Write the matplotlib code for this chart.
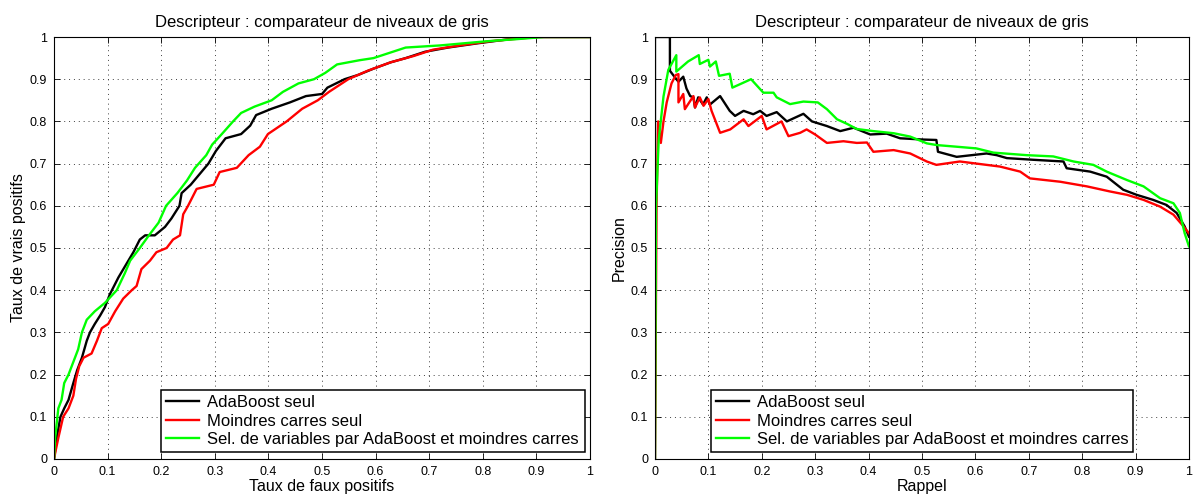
import matplotlib
matplotlib.use("Agg")
import matplotlib.pyplot as plt

plt.rcParams['font.family'] = ['Liberation Sans', 'DejaVu Sans']

# ---- ROC (left) ----
roc_ada_x = [0, 0.005, 0.012, 0.019, 0.027, 0.036, 0.043, 0.052, 0.061, 0.067, 0.076, 0.086, 0.095, 0.104,
             0.12, 0.134, 0.148, 0.16, 0.17, 0.188, 0.207, 0.219, 0.234, 0.238, 0.255, 0.288, 0.302, 0.32,
             0.349, 0.366, 0.377, 0.406, 0.44, 0.47, 0.5, 0.51, 0.542, 0.567, 0.596, 0.628, 0.656, 0.692,
             0.735, 0.79, 0.85, 0.885, 1]
roc_ada_y = [0, 0.05, 0.1, 0.12, 0.14, 0.18, 0.21, 0.24, 0.28, 0.3, 0.32, 0.34, 0.36, 0.39,
             0.43, 0.46, 0.49, 0.52, 0.53, 0.53, 0.55, 0.57, 0.6, 0.63, 0.65, 0.7, 0.73, 0.76,
             0.77, 0.79, 0.815, 0.83, 0.845, 0.86, 0.865, 0.88, 0.9, 0.91, 0.925, 0.94, 0.95, 0.965,
             0.975, 0.985, 0.995, 1.0, 1]

roc_mc_x = [0, 0.003, 0.008, 0.017, 0.027, 0.036, 0.041, 0.047, 0.055, 0.07, 0.08, 0.089, 0.101, 0.114,
            0.129, 0.145, 0.154, 0.163, 0.179, 0.191, 0.21, 0.222, 0.235, 0.241, 0.25, 0.266, 0.298, 0.309,
            0.341, 0.363, 0.384, 0.399, 0.434, 0.463, 0.492, 0.513, 0.549, 0.585, 0.628, 0.671, 0.707,
            0.757, 0.814, 0.9, 1]
roc_mc_y = [0, 0.02, 0.05, 0.1, 0.12, 0.15, 0.19, 0.22, 0.24, 0.25, 0.28, 0.31, 0.32, 0.35,
            0.38, 0.4, 0.41, 0.45, 0.47, 0.49, 0.5, 0.52, 0.53, 0.58, 0.6, 0.64, 0.65, 0.68,
            0.69, 0.72, 0.74, 0.77, 0.8, 0.83, 0.85, 0.87, 0.9, 0.92, 0.94, 0.955, 0.97,
            0.98, 0.99, 1.0, 1]

roc_sel_x = [0, 0.002, 0.008, 0.014, 0.019, 0.027, 0.036, 0.045, 0.052, 0.061, 0.076, 0.095, 0.117, 0.132,
             0.142, 0.16, 0.177, 0.195, 0.209, 0.23, 0.248, 0.263, 0.284, 0.295, 0.313, 0.334, 0.349, 0.374,
             0.406, 0.427, 0.456, 0.485, 0.506, 0.528, 0.57, 0.596, 0.62, 0.656, 0.72, 0.808, 0.864, 0.914, 1]
roc_sel_y = [0, 0.05, 0.12, 0.14, 0.18, 0.2, 0.23, 0.26, 0.3, 0.33, 0.35, 0.37, 0.4, 0.44,
             0.47, 0.5, 0.53, 0.56, 0.6, 0.63, 0.66, 0.69, 0.72, 0.745, 0.77, 0.8, 0.82, 0.835,
             0.85, 0.87, 0.89, 0.9, 0.915, 0.935, 0.945, 0.95, 0.96, 0.975, 0.98, 0.99, 0.995, 1.0, 1]

# ---- Precision / recall (right) ----
pr_ada_x = [0, 0, 0.028, 0.028, 0.037, 0.044, 0.053, 0.059, 0.066, 0.072, 0.075, 0.081, 0.09, 0.097, 0.103,
            0.122, 0.14, 0.15, 0.166, 0.184, 0.197, 0.209, 0.228, 0.247, 0.278, 0.294, 0.322, 0.347, 0.372,
            0.403, 0.434, 0.459, 0.502, 0.527, 0.53, 0.565, 0.621, 0.64, 0.659, 0.709, 0.765, 0.771, 0.815,
            0.846, 0.865, 0.877, 0.902, 0.933, 0.958, 0.977, 0.992, 1.0]
pr_ada_y = [0, 1, 1, 0.92, 0.905, 0.894, 0.906, 0.878, 0.86, 0.857, 0.833, 0.857, 0.84, 0.857, 0.84,
            0.86, 0.825, 0.813, 0.825, 0.817, 0.825, 0.813, 0.822, 0.8, 0.818, 0.8, 0.789, 0.777, 0.785,
            0.769, 0.771, 0.76, 0.757, 0.756, 0.728, 0.716, 0.724, 0.72, 0.713, 0.709, 0.705, 0.689, 0.681,
            0.669, 0.65, 0.638, 0.626, 0.614, 0.602, 0.583, 0.551, 0.527]

pr_mc_x = [0, 0.003, 0.006, 0.011, 0.016, 0.022, 0.031, 0.039, 0.044, 0.044, 0.053, 0.056, 0.072, 0.075, 0.084,
           0.091, 0.1, 0.106, 0.122, 0.141, 0.166, 0.175, 0.2, 0.209, 0.237, 0.25, 0.272, 0.284, 0.3, 0.322,
           0.353, 0.378, 0.397, 0.409, 0.447, 0.478, 0.509, 0.527, 0.571, 0.596, 0.646, 0.684, 0.702, 0.759,
           0.809, 0.852, 0.884, 0.915, 0.946, 0.971, 0.99, 1.0]
pr_mc_y = [0, 0.6, 0.8, 0.749, 0.8, 0.845, 0.89, 0.91, 0.912, 0.845, 0.865, 0.829, 0.86, 0.833, 0.857,
           0.837, 0.853, 0.825, 0.773, 0.781, 0.805, 0.789, 0.813, 0.781, 0.8, 0.765, 0.773, 0.781, 0.769, 0.749,
           0.753, 0.749, 0.75, 0.728, 0.732, 0.724, 0.705, 0.697, 0.705, 0.701, 0.693, 0.681, 0.665, 0.657,
           0.646, 0.634, 0.626, 0.614, 0.598, 0.579, 0.551, 0.535]

pr_sel_x = [0, 0.002, 0.007, 0.016, 0.025, 0.04, 0.04, 0.062, 0.082, 0.084, 0.1, 0.103, 0.114, 0.12, 0.14,
            0.145, 0.18, 0.203, 0.222, 0.228, 0.253, 0.278, 0.305, 0.322, 0.341, 0.36, 0.378, 0.409, 0.447,
            0.478, 0.509, 0.527, 0.565, 0.602, 0.634, 0.696, 0.746, 0.784, 0.821, 0.846, 0.884, 0.915, 0.946,
            0.971, 0.983, 0.992, 1.0]
pr_sel_y = [0, 0.6, 0.756, 0.859, 0.922, 0.957, 0.918, 0.942, 0.957, 0.936, 0.946, 0.93, 0.942, 0.908, 0.913,
            0.88, 0.9, 0.868, 0.868, 0.857, 0.841, 0.847, 0.845, 0.829, 0.805, 0.794, 0.782, 0.777, 0.772,
            0.764, 0.748, 0.744, 0.74, 0.736, 0.726, 0.72, 0.717, 0.705, 0.697, 0.681, 0.661, 0.646, 0.618,
            0.606, 0.583, 0.535, 0.504]

labels = ['AdaBoost seul', 'Moindres carres seul', 'Sel. de variables par AdaBoost et moindres carres']
colors = ['black', '#ff0000', '#00ff00']
title = 'Descripteur : comparateur de niveaux de gris'
ticks = [0, 0.1, 0.2, 0.3, 0.4, 0.5, 0.6, 0.7, 0.8, 0.9, 1]
tick_labels = ['0', '0.1', '0.2', '0.3', '0.4', '0.5', '0.6', '0.7', '0.8', '0.9', '1']

fig = plt.figure(figsize=(11.93, 4.96), dpi=100)
ax1 = fig.add_axes([0.0453, 0.0746, 0.4493, 0.8508])
ax2 = fig.add_axes([0.549, 0.0746, 0.4476, 0.8508])


def style(ax):
    ax.set_xlim(0, 1)
    ax.set_ylim(0, 1)
    ax.set_xticks(ticks)
    ax.set_yticks(ticks)
    ax.set_xticklabels(tick_labels)
    ax.set_yticklabels(tick_labels)
    ax.tick_params(direction='in', top=True, right=True, labelsize=9, length=4, width=0.6, pad=5)
    ax.grid(True, linestyle=(0, (1, 4)), color='#404040', linewidth=0.7)
    for s in ax.spines.values():
        s.set_linewidth(0.8)
    ax.set_title(title, fontsize=12, pad=7)


def add_legend(ax, x0, w):
    leg = ax.legend(loc='lower left', bbox_to_anchor=(x0, 0.0166, w, 0.15), mode='expand',
                    fontsize=12, fancybox=False, edgecolor='black', framealpha=1, borderaxespad=0,
                    handlelength=2.0, handletextpad=0.45, borderpad=0.3, labelspacing=0.2)
    leg.get_frame().set_linewidth(1.1)
    return leg


series1 = [(roc_ada_x, roc_ada_y), (roc_mc_x, roc_mc_y), (roc_sel_x, roc_sel_y)]
for (x, y), c, lab in zip(series1, colors, labels):
    ax1.plot(x, y, color=c, lw=1.7, label=lab)
style(ax1)
ax1.set_xlabel('Taux de faux positifs', fontsize=11.5, labelpad=1)
ax1.set_ylabel('Taux de vrais positifs', fontsize=11.5, labelpad=3)
add_legend(ax1, 0.199, 0.791)

series2 = [(pr_ada_x, pr_ada_y), (pr_mc_x, pr_mc_y), (pr_sel_x, pr_sel_y)]
for (x, y), c, lab in zip(series2, colors, labels):
    ax2.plot(x, y, color=c, lw=1.7, label=lab)
style(ax2)
ax2.set_xlabel('Rappel', fontsize=11.5, labelpad=1)
ax2.set_ylabel('Precision', fontsize=11.5, labelpad=3)
add_legend(ax2, 0.105, 0.79)

fig.savefig('out.png', dpi=100)
